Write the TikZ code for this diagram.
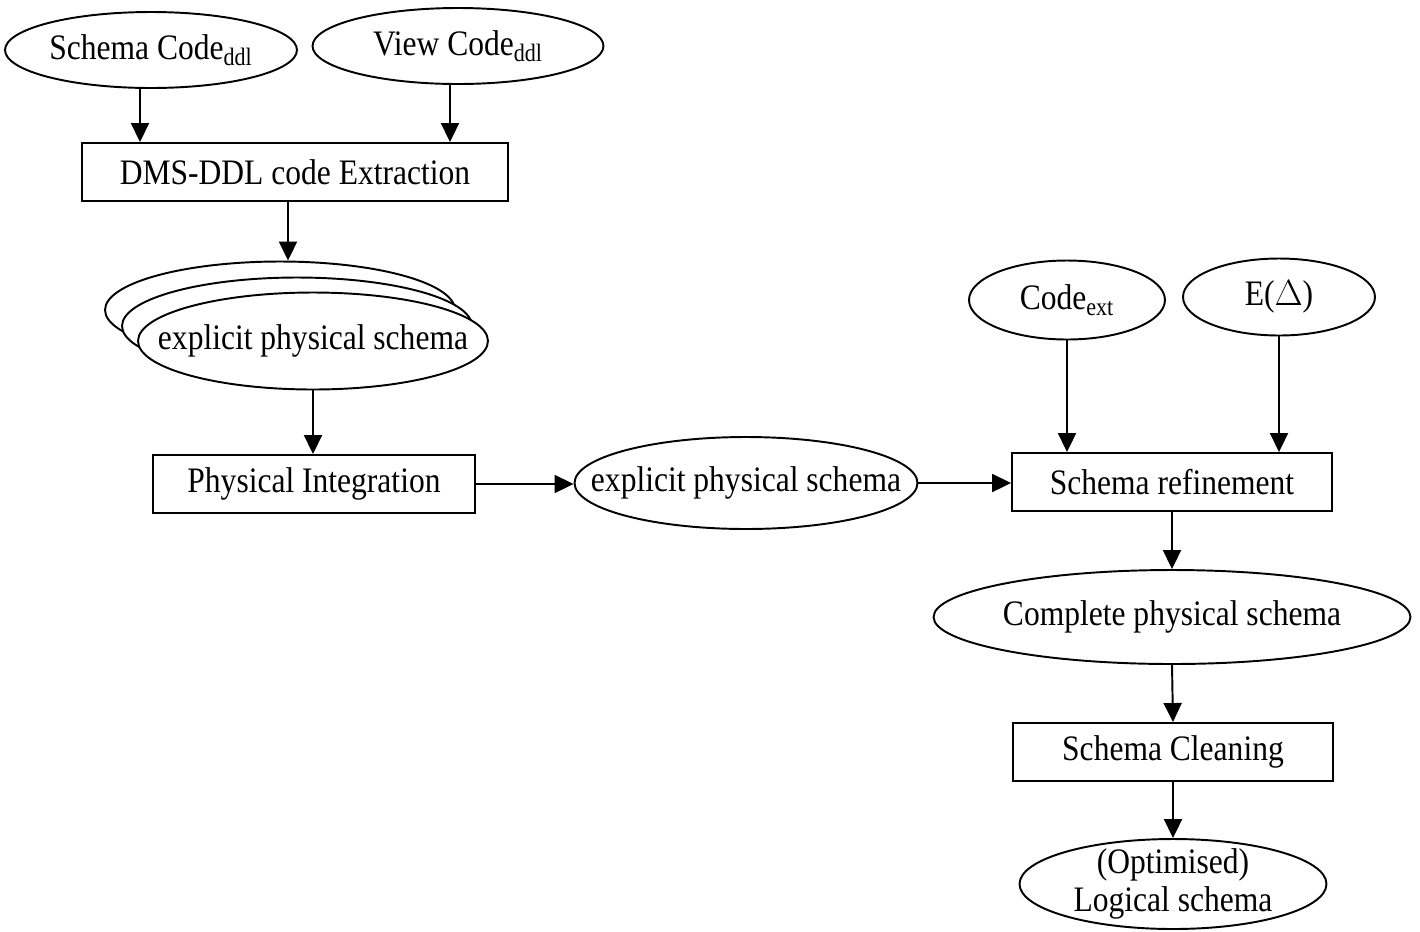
\documentclass[tikz,border=0pt]{standalone}
\usepackage{fontspec}
\setmainfont{Liberation Serif}[FakeStretch=0.88]
\usetikzlibrary{arrows.meta,shapes.geometric,calc}
\begin{document}
\begin{tikzpicture}[x=0.02cm,y=-0.02cm,
  font=\fontsize{20.4}{21.5}\selectfont,
  every node/.style={line width=1.1pt,inner sep=0pt},
  datum/.style={draw,ellipse,fill=white,label={[align=center]center:#1}},
  procbox/.style={draw,rectangle,fill=white,minimum height=1.16cm},
  arr/.style={line width=1.1pt,-{Triangle[length=0.38cm,width=0.36cm]}}]
\useasboundingbox[fill=white] (0,0) rectangle (1420,931);

% input code
\node[datum={Schema Code\textsubscript{ddl}},minimum width=5.84cm,minimum height=1.52cm] (sc) at (151,50) {};
\node[datum={View Code\textsubscript{ddl}},minimum width=5.82cm,minimum height=1.52cm] (vc) at (458,46) {};
\node[procbox,minimum width=8.54cm] (dms) at (295,172) {DMS-DDL code Extraction};

% stack of explicit physical schemas
\node[datum={},minimum width=7cm,minimum height=1.94cm] (back) at (280,310) {};
\node[datum={},minimum width=7cm,minimum height=1.94cm] (mid) at (297,326) {};
\node[datum={explicit physical schema},minimum width=7cm,minimum height=1.94cm] (front) at (313,341) {};

\node[procbox,minimum width=6.44cm] (pi) at (314,484) {Physical Integration};
\node[datum={explicit physical schema},minimum width=6.86cm,minimum height=1.84cm] (eps) at (746,483) {};
\node[procbox,minimum width=6.4cm] (sr) at (1172,482) {Schema refinement};
\node[datum={Code\textsubscript{ext}},minimum width=3.92cm,minimum height=1.58cm] (ce) at (1067,300) {};
\node[datum={E($\Delta$)},minimum width=3.84cm,minimum height=1.54cm] (ed) at (1279,297) {};
\node[datum={Complete physical schema},minimum width=9.54cm,minimum height=1.88cm] (cps) at (1172,617) {};
\node[procbox,minimum width=6.4cm] (scl) at (1173,752) {Schema Cleaning};
\node[datum={(Optimised)\\Logical schema},minimum width=6.14cm,minimum height=1.8cm] (ls) at (1173,884) {};

% connectors
\draw[arr] ([xshift=-0.22cm]sc.south) -- ([xshift=-0.22cm]sc.south |- dms.north);
\draw[arr] ([xshift=-0.16cm]vc.south) -- ([xshift=-0.16cm]vc.south |- dms.north);
\draw[arr] ([xshift=-0.14cm]dms.south) -- ([xshift=-0.14cm]dms.south |- back.north);
\draw[arr] (front.south) -- (front.south |- pi.north);
\draw[arr] (pi.east) -- (pi.east -| eps.west);
\draw[arr] (eps.east) -- (eps.east -| sr.west);
\draw[arr] (ce.south) -- (ce.south |- sr.north);
\draw[arr] (ed.south) -- (ed.south |- sr.north);
\draw[arr] (sr.south) -- (cps.north);
\draw[arr] (cps.south) -- (scl.north);
\draw[arr] (scl.south) -- (ls.north);
\end{tikzpicture}
\end{document}
